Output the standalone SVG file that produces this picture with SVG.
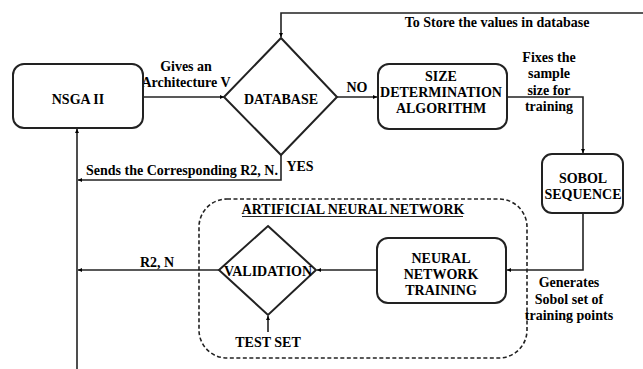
<svg xmlns="http://www.w3.org/2000/svg" width="643" height="369" viewBox="0 0 643 369">
<defs>
<marker id="ah" viewBox="0 0 6 6" refX="6" refY="3" markerWidth="4" markerHeight="4" orient="auto" markerUnits="userSpaceOnUse">
<path d="M0,0 L6,3 L0,6 z" fill="#000"/>
</marker>
<style>
text{font-family:"Liberation Serif","Times New Roman",serif;font-weight:bold;font-size:14px;fill:#000;text-anchor:middle}
.box{fill:#fff;stroke:#222;stroke-width:2}
.con{fill:none;stroke:#222;stroke-width:1.6;marker-end:url(#ah)}
</style>
</defs>
<rect width="643" height="369" fill="#fff"/>
<g id="ann">
<rect x="199" y="199" width="328" height="159" rx="28" fill="none" stroke="#222" stroke-width="1.6" stroke-dasharray="4,2.5"/>
<text x="353" y="214">ARTIFICIAL NEURAL NETWORK</text>
<line x1="242" y1="216.5" x2="463" y2="216.5" stroke="#222" stroke-width="1"/>
</g>
<g id="connectors">
<path class="con" d="M143,97 H224"/>
<path class="con" d="M337,97 H377"/>
<path class="con" d="M643,13 H281 V37"/>
<path class="con" d="M507,97 H583 V153"/>
<path class="con" d="M583,213 V270 H507"/>
<path class="con" d="M377,270 H317"/>
<path class="con" d="M268,332 V316"/>
<path class="con" d="M219,270 H78"/>
<path class="con" d="M281,155 V180 H78"/>
<path class="con" d="M77,369 V129"/>
</g>
<g id="labels">
<text x="186" y="71">Gives an</text>
<text x="186" y="87">Architecture V</text>
<text x="357" y="92">NO</text>
<text x="497" y="27">To Store the values in database</text>
<text x="549" y="62">Fixes the</text>
<text x="549" y="78">sample</text>
<text x="549" y="95">size for</text>
<text x="549" y="111">training</text>
<text x="300" y="171">YES</text>
<text x="182" y="175">Sends the Corresponding R2, N.</text>
<text x="157" y="267">R2, N</text>
<text x="569" y="287">Generates</text>
<text x="569" y="304">Sobol set of</text>
<text x="569" y="320">training points</text>
</g>
<g id="nsga">
<rect class="box" x="13" y="64" width="130" height="64" rx="11"/>
<text x="78" y="104">NSGA II</text>
</g>
<g id="database">
<polygon class="box" points="281,38 337,97 281,155 224,97"/>
<text x="281" y="104">DATABASE</text>
</g>
<g id="sda">
<rect class="box" x="378" y="64" width="129" height="65" rx="11"/>
<text x="441" y="81">SIZE</text>
<text x="441" y="97">DETERMINATION</text>
<text x="441" y="113">ALGORITHM</text>
</g>
<g id="sobol">
<rect class="box" x="542" y="154" width="81" height="59" rx="10"/>
<text x="583" y="183">SOBOL</text>
<text x="583" y="199">SEQUENCE</text>
</g>
<g id="nnt">
<rect class="box" x="377" y="238" width="129" height="65" rx="11"/>
<text x="441" y="263">NEURAL</text>
<text x="441" y="279">NETWORK</text>
<text x="441" y="295">TRAINING</text>
</g>
<g id="validation">
<polygon class="box" points="268,226 316,270 268,315 219,270"/>
<text x="268" y="276">VALIDATION</text>
</g>
<g id="testset">
<text x="268" y="347">TEST SET</text>
</g>
</svg>
